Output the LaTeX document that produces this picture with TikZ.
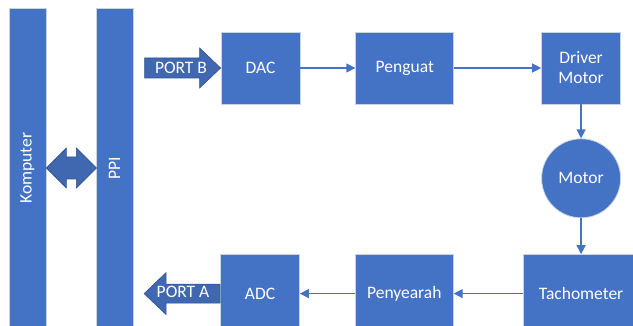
\documentclass[tikz,border=0pt]{standalone}
\usepackage{fontspec}
\setmainfont{Carlito}
\usetikzlibrary{arrows.meta, positioning}
\definecolor{boxblue}{HTML}{4472C4}
\definecolor{arrowblue}{HTML}{3F68B0}
\definecolor{arrowedge}{HTML}{2F528F}
\definecolor{edgegray}{HTML}{C9D3E3}
\begin{document}
\begin{tikzpicture}[
    x=1pt, y=-1pt,
    font=\fontsize{17.5}{20}\selectfont,
    box/.style={draw=edgegray, line width=0.8pt, fill=boxblue, text=white, align=center, inner sep=0pt, minimum width=79pt, minimum height=72pt},
    bar/.style={box, rotate=90, minimum width=320pt, minimum height=37pt},
    blockarrow/.style={draw=arrowedge, line width=0.6pt, fill=arrowblue},
    label/.style={text=white, inner sep=0pt, anchor=center},
    arrow/.style={-{Triangle[length=9pt, width=9pt]}, draw=boxblue, line width=1.3pt}
]
\useasboundingbox (0,0) rectangle (633,326);
\node[bar] (komputer) at (27.5,168) {Komputer};
\node[bar] (ppi) at (114.5,168) {PPI};
\node[box] (dac) at (260.5,68) {DAC};
\node[box, right=55pt of dac, minimum width=98pt] (penguat) {Penguat};
\node[box, right=87pt of penguat] (driver) {Driver\\Motor};
\node[box, circle, minimum size=79pt, below=34pt of driver] (motor) {Motor};
\node[box, below=36pt of motor, minimum width=116pt, minimum height=78pt] (tacho) {Tachometer};
\node[box, left=69pt of tacho, minimum width=98pt, minimum height=78pt] (penyearah) {Penyearah};
\node[box, left=55pt of penyearah, minimum height=78pt] (adc) {ADC};
% block arrows to and from the PPI
\draw[blockarrow] (dac.west) -- ++(-21,-20) -- ++(0,10) -- ++(-55,0) -- ++(0,20) -- ++(55,0) -- ++(0,10) -- cycle;
\node[label] (portb) at (181,68) {PORT B};
\draw[blockarrow] (adc.west) -- ++(0,-9.5) -- ++(-54,0) -- ++(0,-11.5) -- ++(-22,21) -- ++(22,21) -- ++(0,-11.5) -- ++(54,0) -- cycle;
\node[label] (porta) at (183,292) {PORT A};
\draw[blockarrow] (komputer.south) -- ++(20,-20) -- ++(0,9) -- ++(10,0) -- ++(0,-9) -- ++(20,20) -- ++(-20,20) -- ++(0,-9) -- ++(-10,0) -- ++(0,9) -- cycle;
% signal path
\draw[arrow] (dac) -- (penguat);
\draw[arrow] (penguat) -- (driver);
\draw[arrow] (driver) -- (motor);
\draw[arrow] (motor) -- (tacho);
\draw[arrow] (tacho) -- (penyearah);
\draw[arrow] (penyearah) -- (adc);
\end{tikzpicture}
\end{document}
